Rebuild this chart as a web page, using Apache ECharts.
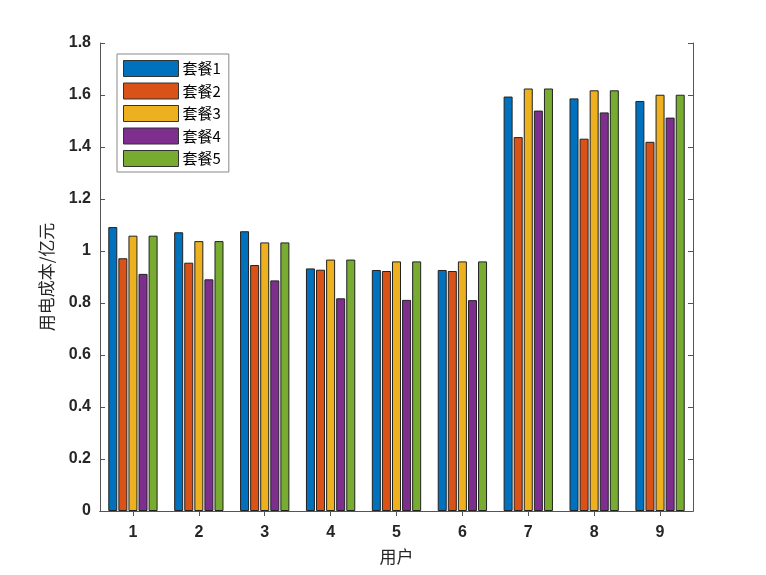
<!DOCTYPE html>
<html><head><meta charset="utf-8">
<script src="https://cdn.jsdelivr.net/npm/echarts@6/dist/echarts.min.js"></script>
<style>html,body{margin:0;padding:0;background:#fff}#c{width:766px;height:575px}</style>
</head><body><div id="c"></div>
<script>
var categories = ['1','2','3','4','5','6','7','8','9'];
var seriesNames = ['套餐1','套餐2','套餐3','套餐4','套餐5'];
var s1 = [1.092,1.072,1.076,0.933,0.927,0.927,1.594,1.587,1.577];
var s2 = [0.972,0.955,0.946,0.928,0.923,0.923,1.438,1.432,1.420];
var s3 = [1.059,1.038,1.033,0.967,0.960,0.960,1.625,1.618,1.601];
var s4 = [0.912,0.891,0.887,0.818,0.812,0.811,1.540,1.533,1.513];
var s5 = [1.059,1.038,1.033,0.967,0.960,0.960,1.625,1.618,1.601];
var yTicks = [0,0.2,0.4,0.6,0.8,1,1.2,1.4,1.6,1.8];
var colors = ['#0072BD','#D95319','#EDB120','#7E2F8E','#77AC30'];
var allData = [s1,s2,s3,s4,s5];

var chart = echarts.init(document.getElementById('c'));
var axisCol = '#555';
var labelFont = {color:'#262626', fontFamily:'Liberation Sans, Arial', fontWeight:'bold', fontSize:16};
var option = {
  animation:false,
  color: colors,
  grid:{left:100, right:73, top:43, bottom:64},
  legend:{
    orient:'vertical', left:117, top:54, icon:'rect',
    itemWidth:55, itemHeight:16, itemGap:5.5,
    padding:[6,8,5,6],
    borderColor:'#888', borderWidth:1, backgroundColor:'#fff',
    data: seriesNames,
    textStyle:{fontSize:15, color:'#000', fontFamily:'Noto Sans CJK SC', padding:[0,0,0,-1]},
    itemStyle:{borderColor:'#333', borderWidth:1}
  },
  xAxis:[{
    type:'category', data:categories,
    name:'用户', nameLocation:'middle', nameGap:37,
    nameTextStyle:{fontSize:17, color:'#262626', fontFamily:'Noto Sans CJK SC'},
    axisLine:{show:true, lineStyle:{color:axisCol}},
    axisTick:{show:true, inside:true, alignWithLabel:true, length:5, lineStyle:{color:axisCol}},
    axisLabel:Object.assign({margin:14}, labelFont),
    splitLine:{show:false}
  },{
    type:'category', data:categories, position:'top',
    axisLine:{show:true, lineStyle:{color:axisCol}},
    axisTick:{show:true, inside:true, alignWithLabel:true, length:5, lineStyle:{color:axisCol}},
    axisLabel:{show:false}
  }],
  yAxis:[{
    type:'value', min:0, max:1.8, interval:0.2,
    name:'用电成本/亿元', nameLocation:'middle', nameGap:45,
    nameTextStyle:{fontSize:17, color:'#262626', fontFamily:'Noto Sans CJK SC'},
    axisLine:{show:true, lineStyle:{color:axisCol}},
    axisTick:{show:true, inside:true, length:5, lineStyle:{color:axisCol}},
    axisLabel:Object.assign({margin:9, formatter:function(v){return String(Math.round(v*10)/10);}}, labelFont),
    splitLine:{show:false}
  },{
    type:'value', min:0, max:1.8, interval:0.2, position:'right',
    axisLine:{show:true, lineStyle:{color:axisCol}},
    axisTick:{show:true, inside:true, length:5, lineStyle:{color:axisCol}},
    axisLabel:{show:false}, splitLine:{show:false}
  }],
  series: seriesNames.map(function(n,i){
    return {
      name:n, type:'bar', data:allData[i], barWidth:9, barGap:'12%',
      itemStyle:{color:colors[i], borderColor:'#222', borderWidth:1}
    };
  })
};
chart.setOption(option);
</script></body></html>
